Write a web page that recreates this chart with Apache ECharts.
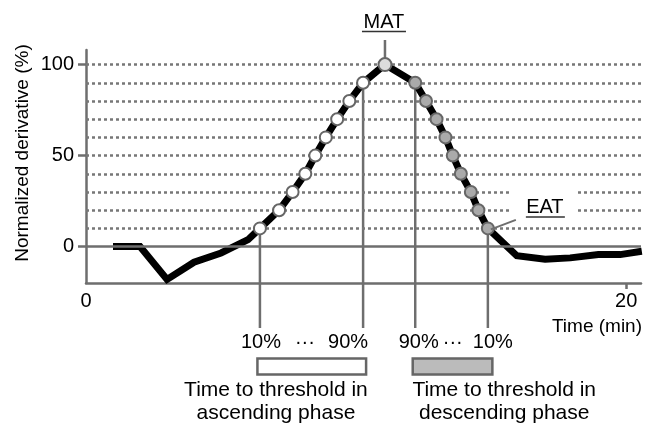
<!DOCTYPE html>
<html><head><meta charset="utf-8">
<script src="https://cdn.jsdelivr.net/npm/echarts@6/dist/echarts.min.js"></script>
<style>html,body{margin:0;padding:0;background:#fff}#c{width:649px;height:424px}</style>
</head><body><div id="c"></div>
<script>
// ---- data ----
const baseBeforeT = [1, 2, 3, 4, 5, 6];
const baseBeforeV = [0, 0, -18, -8.6, -3.5, 3.8];
const ascT = [6.44, 7.15, 7.65, 8.12, 8.49, 8.88, 9.30, 9.75, 10.26];
const ascV = [10, 20, 30, 40, 50, 60, 70, 80, 90];
const peakT = [11.07];
const peakV = [100];
const descT = [12.19, 12.59, 12.98, 13.31, 13.58, 13.88, 14.25, 14.53, 14.88];
const descV = [90, 80, 70, 60, 50, 40, 30, 20, 10];
const baseAfterT = [15.95, 17, 17.93, 18.97, 19.78, 20.58];
const baseAfterV = [-5, -7, -6.2, -4.4, -4.4, -2.6];
const yTickValues = [0, 50, 100];
const xTickLabelValues = [0, 20];
const xTickValues = [20];
const thresholdLevels = [10, 20, 30, 40, 50, 60, 70, 80, 90, 100];

const pairs = (t, v) => t.map((x, i) => [x, v[i]]);
const curve = [].concat(pairs(baseBeforeT, baseBeforeV), pairs(ascT, ascV), pairs(peakT, peakV),
  pairs(descT, descV), pairs(baseAfterT, baseAfterV));

const FONT = '"Liberation Sans", Arial, sans-serif';
const TXT = '#000';
const GRAY = '#6e6e6e';

function txt(text, x, y, size, align) {
  return { type: 'text', style: { text: text, x: x, y: y, fill: TXT, fontSize: size, fontFamily: FONT,
    align: align || 'center', verticalAlign: 'middle' } };
}
function ln(x1, y1, x2, y2, w, c) {
  return { type: 'line', shape: { x1: x1, y1: y1, x2: x2, y2: y2 }, style: { stroke: c || GRAY, lineWidth: w || 2.5 } };
}

const chart = echarts.init(document.getElementById('c'), null, { renderer: 'canvas' });
const axisStyle = { color: GRAY, width: 2.5 };
chart.setOption({
  animation: false,
  backgroundColor: '#fff',
  grid: { left: 86, right: 8, top: 50, bottom: 141 },
  xAxis: {
    type: 'value', min: 0, max: 20.55,
    axisLine: { onZero: false, lineStyle: axisStyle },
    axisTick: { customValues: xTickValues, length: 6, lineStyle: axisStyle },
    axisLabel: { customValues: xTickLabelValues, fontSize: 20, color: TXT, fontFamily: FONT, margin: 8 },
    splitLine: { show: false }
  },
  yAxis: {
    type: 'value', min: -20, max: 108,
    axisLine: { show: true, onZero: false, lineStyle: axisStyle },
    axisTick: { show: true, customValues: yTickValues, length: 8, lineStyle: axisStyle },
    axisLabel: { customValues: yTickValues, fontSize: 20, color: TXT, fontFamily: FONT, margin: 12 },
    splitLine: { show: false }
  },
  graphic: [
    { type: 'text', x: 23, y: 153, rotation: Math.PI / 2,
      style: { text: 'Normalized derivative (%)', fill: TXT, fontSize: 19, fontFamily: FONT, align: 'center', verticalAlign: 'middle' } },
    { type: 'text', x: 642, y: 327,
      style: { text: 'Time (min)', fill: TXT, fontSize: 19, fontFamily: FONT, align: 'right', verticalAlign: 'middle' } }
  ],
  series: [
    { // reference levels
      type: 'line', data: [], z: 1, silent: true,
      markLine: {
        silent: true, symbol: 'none', label: { show: false }, animation: false,
        data: thresholdLevels.map(v => ({ yAxis: v, lineStyle: { type: [3, 3], color: '#777', width: 2.5 } }))
          .concat([{ yAxis: 0, lineStyle: { type: 'solid', color: GRAY, width: 2.5 } }])
      }
    },
    { // drop lines
      type: 'custom', z: 2, clip: false, silent: true,
      data: [[ascT[0], ascV[0], 1], [ascT[ascT.length - 1], ascV[ascV.length - 1], 1],
             [descT[0], descV[0], 1], [descT[descT.length - 1], descV[descV.length - 1], 1],
             [peakT[0], peakV[0], -1]],
      encode: { x: 0, y: 1 },
      renderItem: function (params, api) {
        const p = api.coord([api.value(0), api.value(1)]);
        const dir = api.value(2);
        return ln(p[0], p[1], p[0], dir > 0 ? 328 : 40, 2.5);
      }
    },
    { type: 'line', data: curve, z: 3, showSymbol: false, symbol: 'none', silent: true,
      lineStyle: { color: '#000', width: 7, join: 'miter', cap: 'butt' } },
    { type: 'scatter', data: pairs(ascT, ascV), z: 5, symbol: 'circle', symbolSize: 12, silent: true,
      itemStyle: { color: '#fff', borderColor: '#666', borderWidth: 2, opacity: 1 } },
    { type: 'scatter', data: pairs(peakT, peakV), z: 5, symbol: 'circle', symbolSize: 13, silent: true,
      itemStyle: { color: '#dcdcdc', borderColor: '#666', borderWidth: 2, opacity: 1 } },
    { type: 'scatter', data: pairs(descT, descV), z: 5, symbol: 'circle', symbolSize: 12, silent: true,
      itemStyle: { color: '#aaaaaa', borderColor: '#666', borderWidth: 2, opacity: 1 } },
    { // annotations
      type: 'custom', z: 6, clip: false, silent: true,
      data: [[peakT[0], peakV[0]]],
      encode: { x: 0, y: 1 },
      renderItem: function (params, api) {
        const a10 = api.coord([ascT[0], ascV[0]]);
        const a90 = api.coord([ascT[ascT.length - 1], ascV[ascV.length - 1]]);
        const d90 = api.coord([descT[0], descV[0]]);
        const d10 = api.coord([descT[descT.length - 1], descV[descV.length - 1]]);
        const pk = api.coord([peakT[0], peakV[0]]);
        const ty = 342;
        const ch = [
          // MAT
          txt('MAT', pk[0] - 1, 22, 20),
          ln(pk[0] - 23, 31.5, pk[0] + 21, 31.5, 1.5, '#333'),
          // EAT
          { type: 'rect', shape: { x: d10[0] + 22, y: 186, width: 68, height: 29 }, style: { fill: '#fff' } },
          ln(d10[0] + 3, d10[1] + 1, d10[0] + 28, d10[1] - 8.5, 2, GRAY),
          txt('EAT', d10[0] + 57, 207, 20),
          ln(d10[0] + 38, 217, d10[0] + 77, 217, 1.5, '#333'),
          // ascending labels
          txt('10%', a10[0] + 1, ty, 20),
          txt('···', a10[0] + 45, ty, 20),
          txt('90%', a90[0] - 15, ty, 20),
          { type: 'rect', shape: { x: a10[0] - 2.5, y: 358.5, width: a90[0] - a10[0] + 5.5, height: 16 },
            style: { fill: '#fff', stroke: '#666', lineWidth: 2.5 } },
          txt('Time to threshold in', a10[0] + 16, 390, 21),
          txt('ascending phase', a10[0] + 16, 413, 21),
          // descending labels
          txt('90%', d90[0] + 3.5, ty, 20),
          txt('···', d90[0] + 37.5, ty, 20),
          txt('10%', d10[0] + 5, ty, 20),
          { type: 'rect', shape: { x: d90[0] - 2.5, y: 358.5, width: d10[0] - d90[0] + 7, height: 16 },
            style: { fill: '#bbbbbb', stroke: '#666', lineWidth: 2.5 } },
          txt('Time to threshold in', d90[0] + 89, 390, 21),
          txt('descending phase', d90[0] + 89, 413, 21)
        ];
        return { type: 'group', children: ch };
      }
    }
  ]
});
</script>
</body></html>
